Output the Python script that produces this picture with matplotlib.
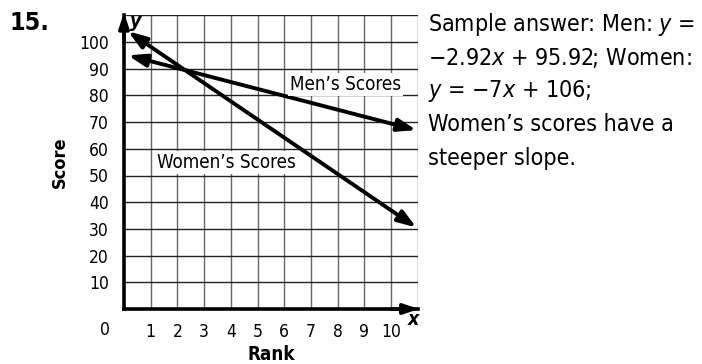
import matplotlib
matplotlib.use("Agg")
import matplotlib.pyplot as plt

# ---- data ----
rank_ticks = [1, 2, 3, 4, 5, 6, 7, 8, 9, 10]
score_ticks = [10, 20, 30, 40, 50, 60, 70, 80, 90, 100]
men_x = [0.15, 10.95]
men_y = [95.0, 67.0]
women_x = [0.15, 10.95]
women_y = [104.0, 30.5]
men_label = "Men\u2019s Scores"
women_label = "Women\u2019s Scores"
answer_lines = [
    "Sample answer: Men: $y$ =",
    "\u22122.92$x$ + 95.92; Women:",
    "$y$ = \u22127$x$ + 106;",
    "Women\u2019s scores have a",
    "steeper slope.",
]

plt.rcParams["font.family"] = ["DejaVu Sans"]
plt.rcParams["font.stretch"] = "condensed"
plt.rcParams["mathtext.fontset"] = "custom"
plt.rcParams["mathtext.it"] = "DejaVu Sans:italic:stretch=condensed"
plt.rcParams["mathtext.rm"] = "DejaVu Sans:stretch=condensed"

W, H = 702, 364
fig = plt.figure(figsize=(W / 100, H / 100), dpi=100)

x0, y0 = 124, 309          # pixel of origin (from top)
unit = 26.7                # px per grid cell
ax = fig.add_axes([x0 / W, (H - y0) / H, 11 * unit / W, 11 * unit / H])
ax.set_xlim(0, 11)
ax.set_ylim(0, 110)

for v in range(1, 12):
    ax.axvline(v, color="#666666", lw=1.0, zorder=1)
for v in range(10, 111, 10):
    ax.axhline(v, color="#222222", lw=1.0, zorder=1)

for s in ["top", "right"]:
    ax.spines[s].set_visible(False)
for s in ["left", "bottom"]:
    ax.spines[s].set_linewidth(2.6)
    ax.spines[s].set_color("black")
    ax.spines[s].set_zorder(3)

ax.set_xticks(rank_ticks)
ax.set_yticks(score_ticks)
ax.tick_params(length=0, labelsize=12.5, pad=11)
ax.tick_params(axis="x", pad=10)

# axis arrows
ax.annotate("", xy=(0, 111), xytext=(0, 100), annotation_clip=False,
            arrowprops=dict(arrowstyle="-|>,head_length=0.9,head_width=0.3",
                            color="black", lw=2.6, shrinkA=0, shrinkB=0))
ax.annotate("", xy=(11.05, 0), xytext=(10, 0), annotation_clip=False,
            arrowprops=dict(arrowstyle="-|>,head_length=0.9,head_width=0.3",
                            color="black", lw=2.6, shrinkA=0, shrinkB=0))

# data lines
for xs, ys in [(men_x, men_y), (women_x, women_y)]:
    ax.annotate("", xy=(xs[1], ys[1]), xytext=(xs[0], ys[0]), annotation_clip=False,
                arrowprops=dict(arrowstyle="<|-|>,head_length=1.1,head_width=0.38",
                                color="black", lw=2.8, shrinkA=0, shrinkB=0),
                zorder=4)

ax.text(8.3, 84, men_label, ha="center", va="center", fontsize=13.5, zorder=5,
        bbox=dict(facecolor="white", edgecolor="none", pad=1.5))
ax.text(3.85, 55, women_label, ha="center", va="center", fontsize=13.5, zorder=5,
        bbox=dict(facecolor="white", edgecolor="none", pad=1.5))

# labels
ax.text(-0.52, -8, "0", ha="right", va="center", fontsize=12.5)
ax.text(10.62, -4.0, "x", ha="left", va="center", fontsize=14, fontweight="bold",
        style="italic")
ax.text(0.22, 107.5, "y", ha="left", va="center", fontsize=14, fontweight="bold",
        style="italic")
fig.text(60 / W, 1 - 162 / H, "Score", rotation=90, ha="center", va="center",
         fontsize=13, fontweight="bold")
fig.text(271 / W, 1 - 355 / H, "Rank", ha="center", va="center",
         fontsize=13.5, fontweight="bold")
fig.text(9 / W, 1 - 22.5 / H, "15.", ha="left", va="center", fontsize=18,
         fontweight="bold")

for i, line in enumerate(answer_lines):
    fig.text(428 / W, 1 - (24 + 33.5 * i) / H, line, ha="left", va="center",
             fontsize=16.7)

fig.savefig("out.png", dpi=100)
